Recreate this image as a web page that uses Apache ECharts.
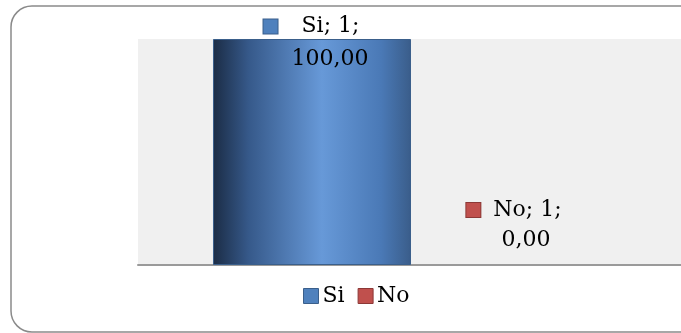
<!DOCTYPE html>
<html>
<head>
<meta charset="utf-8">
<script src="https://cdn.jsdelivr.net/npm/echarts@6/dist/echarts.min.js"></script>
<style>
  html, body { margin: 0; padding: 0; background: #ffffff; overflow: hidden; }
  #chart { width: 681px; height: 333px; }
</style>
</head>
<body>
<div id="chart"></div>
<script>
// Survey answer shares (percent) for a single question
const categories = ['1'];
const seriesNames = ['Si', 'No'];
const siValues = [100];
const noValues = [0];
const seriesColors = ['#4f81bd', '#c0504d'];
const seriesBorders = ['#3a5f8b', '#8c3836'];

const FONT = 'DejaVu Serif';

function fmt(v) {
  return v.toFixed(2).replace('.', ',');
}

// Data label: legend key, "series; category;" then the value on its own line
function labelFormatter(p) {
  return '{sq|}{gap|}{t|' + p.seriesName + '; ' + p.name + ';}{tail|}\n{t|' + fmt(p.value) + '}';
}

function richFor(idx, gap, tail, lineHeight) {
  return {
    sq: {
      width: 14, height: 14,
      backgroundColor: seriesColors[idx],
      borderColor: seriesBorders[idx],
      borderWidth: 1
    },
    gap: { width: gap },
    tail: { width: tail },
    t: { fontFamily: FONT, fontSize: 22, color: '#000', lineHeight: lineHeight }
  };
}

const siGradient = new echarts.graphic.LinearGradient(0, 0, 1, 0, [
  { offset: 0, color: '#1b2c45' },
  { offset: 0.18, color: '#36598a' },
  { offset: 0.55, color: '#6799d8' },
  { offset: 0.85, color: '#4a79b6' },
  { offset: 1, color: '#3a5d8a' }
]);

const chart = echarts.init(document.getElementById('chart'), null, { renderer: 'canvas' });

chart.setOption({
  animation: false,
  backgroundColor: '#ffffff',
  grid: {
    left: 138, right: 0, top: 39, bottom: 68,
    show: true, backgroundColor: '#f0f0f0', borderWidth: 0
  },
  xAxis: {
    type: 'category',
    data: categories,
    axisLine: { show: true, lineStyle: { color: '#9a9a9a', width: 2 } },
    axisTick: { show: false },
    axisLabel: { show: false },
    splitLine: { show: false }
  },
  yAxis: {
    type: 'value',
    min: 0, max: 100,
    show: false
  },
  legend: {
    left: 303, top: 285,
    padding: 0,
    itemWidth: 15, itemHeight: 15, itemGap: 13,
    icon: 'rect',
    textStyle: { fontFamily: FONT, fontSize: 22, color: '#000', padding: [0, 0, 0, -1] },
    data: [
      { name: 'Si', itemStyle: { color: seriesColors[0], borderColor: seriesBorders[0], borderWidth: 1 } },
      { name: 'No', itemStyle: { color: seriesColors[1], borderColor: seriesBorders[1], borderWidth: 1 } }
    ]
  },
  // Rounded frame around the whole chart; its right side runs past the canvas edge
  graphic: [{
    type: 'rect',
    shape: { x: 11, y: 6, width: 690, height: 326, r: 21 },
    style: { fill: null, stroke: '#8a8a8a', lineWidth: 1.5 },
    silent: true,
    z: 100
  }],
  series: [
    {
      name: seriesNames[0],
      type: 'bar',
      data: siValues,
      barWidth: 198,
      barGap: '-1.5%',
      itemStyle: { color: siGradient, borderColor: '#3a5f8b', borderWidth: 1 },
      label: {
        show: true,
        position: [117, -29],
        align: 'center',
        verticalAlign: 'top',
        formatter: labelFormatter,
        rich: richFor(0, 24, 37, 33)
      }
    },
    {
      name: seriesNames[1],
      type: 'bar',
      data: noValues,
      barWidth: 198,
      itemStyle: { color: seriesColors[1], borderWidth: 0 },
      label: {
        show: true,
        position: [118, -70],
        align: 'center',
        verticalAlign: 'top',
        formatter: labelFormatter,
        rich: richFor(1, 13, 24, 30)
      }
    }
  ]
});
</script>
</body>
</html>
